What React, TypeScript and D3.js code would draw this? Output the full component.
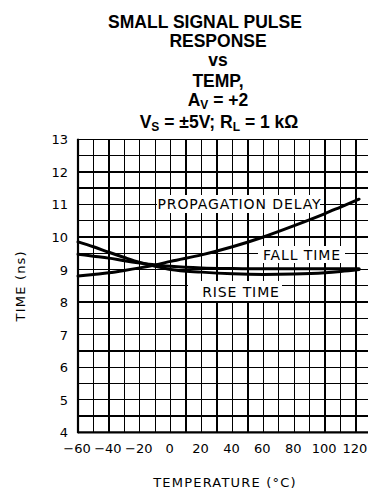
import React from "react";
import * as d3 from "d3";

const temps = [-60, -50, -40, -30, -20, -10, 0, 20, 40, 60, 80, 100, 110, 122];
const propDelay = [8.8, 8.85, 8.9, 8.97, 9.05, 9.14, 9.25, 9.45, 9.7, 10.0, 10.35, 10.72, 10.92, 11.16];
const riseTime = [9.85, 9.7, 9.53, 9.37, 9.22, 9.1, 9.0, 8.92, 8.87, 8.85, 8.86, 8.9, 8.94, 9.0];
const fallTime = [9.47, 9.41, 9.35, 9.27, 9.2, 9.14, 9.1, 9.05, 9.03, 9.02, 9.02, 9.02, 9.02, 9.02];
const xTicks = [-60, -40, -20, 0, 20, 40, 60, 80, 100, 120];
const yTicks = [4, 5, 6, 7, 8, 9, 10, 11, 12, 13];
const titleLines = ["SMALL SIGNAL PULSE", "RESPONSE", "vs", "TEMP,"];

const W = 368;
const H = 494;
const x = d3.scaleLinear().domain([-60, 120]).range([78, 356]);
const y = d3.scaleLinear().domain([4, 13]).range([432.3, 139.3]);

const gridX = d3.range(-60, 131, 10);
const gridY = d3.range(4, 13.01, 0.5);

const lineGen = d3
  .line<[number, number]>()
  .x((d) => x(d[0]))
  .y((d) => y(d[1]))
  .curve(d3.curveMonotoneX);

const series = [propDelay, riseTime, fallTime];

const labelFont = "'DejaVu Sans', sans-serif";
const titleY = [27.5, 46.5, 66, 86.5];
const titleX = [205, 218, 218, 218];

export default function App() {
  return (
    <svg
      width={W}
      height={H}
      style={{ position: "absolute", left: 0, top: 0, background: "#fff" }}
    >
      <rect x={0} y={0} width={W} height={H} fill="#fff" />
      {/* title */}
      <g
        fontFamily="'Liberation Sans', Arial, sans-serif"
        fontWeight="bold"
        fontSize={17.5}
        textAnchor="middle"
        fill="#000"
      >
        {titleLines.map((t, i) => (
          <text key={t} x={titleX[i]} y={titleY[i]}>
            {t}
          </text>
        ))}
        <text x={218} y={105.5}>
          A<tspan fontSize={12} dy={3}>V</tspan>
          <tspan dy={-3}> = +2</tspan>
        </text>
        <text x={219} y={127.5}>
          V<tspan fontSize={12} dy={3}>S</tspan>
          <tspan dy={-3}> = ±5V; R</tspan>
          <tspan fontSize={12} dy={3}>L</tspan>
          <tspan dy={-3}> = 1 kΩ</tspan>
        </text>
      </g>

      {/* grid */}
      <g stroke="#000" strokeWidth={1.3} shapeRendering="crispEdges">
        {gridX.map((v) => (
          <line key={"gx" + v} x1={x(v)} x2={x(v)} y1={y(13)} y2={y(4)} />
        ))}
        {gridY.map((v) => (
          <line key={"gy" + v} x1={x(-60)} x2={W} y1={y(v)} y2={y(v)} />
        ))}
      </g>
      <line x1={x(-60)} x2={x(-60)} y1={y(13) - 0.5} y2={y(4) + 1} stroke="#000" strokeWidth={2.2} />
      <line x1={x(-60)} x2={W} y1={y(4)} y2={y(4)} stroke="#000" strokeWidth={2.2} />

      {/* label backgrounds */}
      <rect x={157} y={195} width={163} height={18} fill="#fff" />
      <rect x={258} y={246} width={87} height={17} fill="#fff" />
      <rect x={188} y={281} width={94} height={20} fill="#fff" />

      {/* curves */}
      {series.map((s, i) => (
        <path
          key={i}
          d={lineGen(temps.map((t, j) => [t, s[j]] as [number, number])) || ""}
          fill="none"
          stroke="#000"
          strokeWidth={3}
          strokeLinecap="round"
        />
      ))}

      {/* curve labels */}
      <g fontFamily={labelFont} fontSize={14} fill="#000" letterSpacing={0.9}>
        <text x={239.5} y={209} textAnchor="middle">PROPAGATION DELAY</text>
        <text x={302} y={260} textAnchor="middle">FALL TIME</text>
        <text x={241} y={296.5} textAnchor="middle">RISE TIME</text>
      </g>

      {/* tick labels */}
      <g fontFamily={labelFont} fontSize={13} fill="#000">
        {yTicks.map((v) => (
          <text key={"yt" + v} x={68} y={y(v) + 5} textAnchor="end">
            {v}
          </text>
        ))}
        {xTicks.map((v) => (
          <text key={"xt" + v} x={x(v) - 1} y={453} textAnchor="middle">
            {v < 0 ? "\u2212" + Math.abs(v) : String(v)}
          </text>
        ))}
      </g>

      {/* axis titles */}
      <g fontFamily={labelFont} fontSize={13} fill="#000" letterSpacing={1.2}>
        <text x={225} y={487} textAnchor="middle">TEMPERATURE (°C)</text>
        <text
          transform={`translate(25, ${(y(13) + y(4)) / 2}) rotate(-90)`}
          textAnchor="middle"
        >
          TIME (ns)
        </text>
      </g>
    </svg>
  );
}
